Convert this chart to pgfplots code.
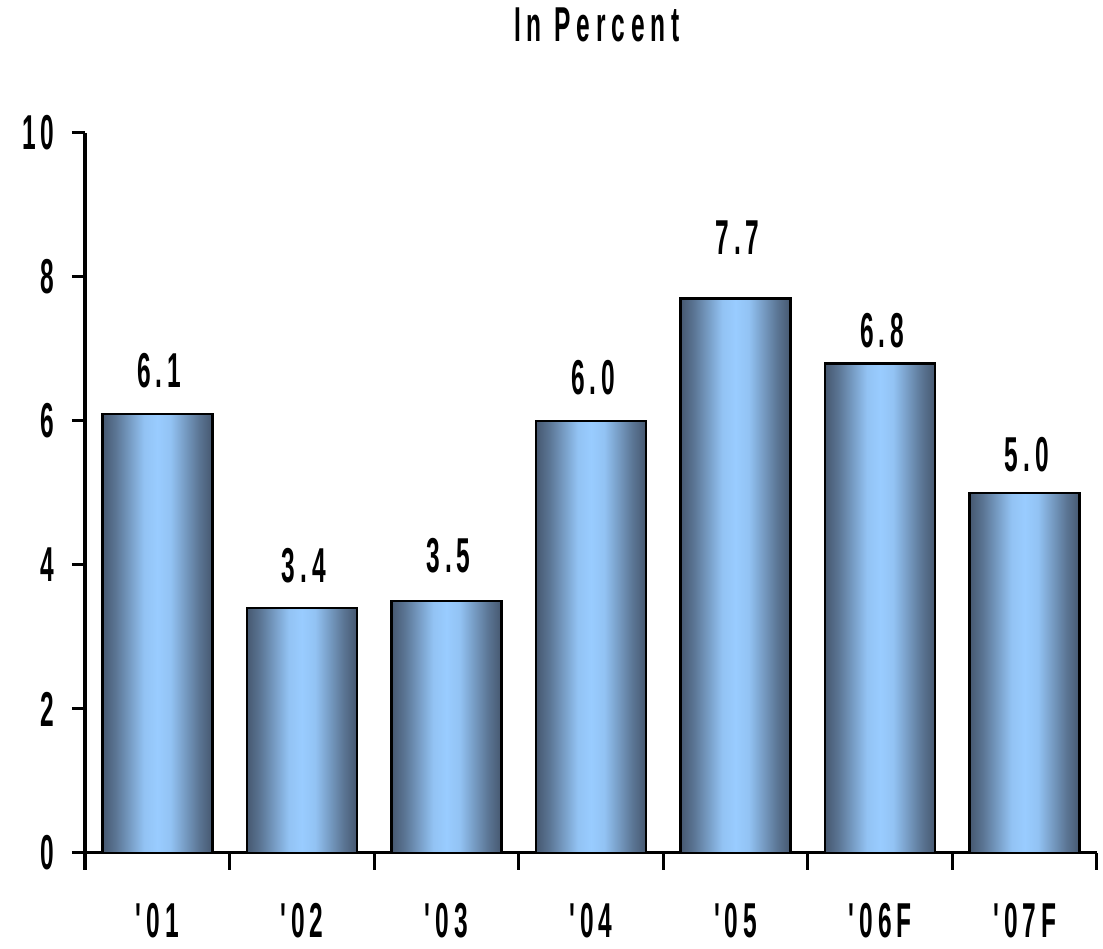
\documentclass[border=0pt]{standalone}
\usepackage{fontspec}
\usepackage{pgfplots}
\usepackage{pgfplotstable}
\pgfplotsset{compat=1.18}

% Condensed, letter-spaced bold sans used for every text on the chart
\newfontfamily\chartfont{Liberation Sans Bold}[FakeStretch=0.5, LetterSpace=10]
\newfontfamily\titlefont{Liberation Sans Bold}[FakeStretch=0.5, LetterSpace=12]

\definecolor{baredge}{RGB}{70,88,112}
\definecolor{barmid}{RGB}{153,204,255}

% cylinder-like shading across each bar: dark rims, light centre
% (the bar itself covers the 25bp..75bp part of the shading)
\pgfdeclarehorizontalshading{barcyl}{100bp}{
  color(0bp)=(baredge);
  color(25bp)=(baredge);
  color(31bp)=(baredge!75!barmid);
  color(44bp)=(barmid!92!baredge);
  color(50bp)=(barmid);
  color(56bp)=(barmid!92!baredge);
  color(69bp)=(baredge!75!barmid);
  color(75bp)=(baredge);
  color(100bp)=(baredge)}

% year index, growth in percent, extra lift of the value label (bp)
\pgfplotstableread{
x  y    lift
0  6.1  26
1  3.4  26
2  3.5  28
3  6.0  26
4  7.7  44
5  6.8  16
6  5.0  21
}\growth

\begin{document}
\begin{tikzpicture}
\useasboundingbox (0,0) rectangle (1103bp,949bp);
\begin{axis}[
  at={(85bp,96bp)}, anchor=south west,
  scale only axis, width=1012bp, height=720bp,
  xmin=-0.5, xmax=6.5, ymin=0, ymax=10,
  axis lines*=left,
  every outer x axis line/.append style={-},
  every outer y axis line/.append style={-},
  axis line style={line width=3bp, black, -},
  tick align=outside,
  ytick={0,2,...,10},
  major tick length=13bp,
  minor tick length=17bp,
  ytick style={line width=3bp, black},
  xtick={0,...,6},
  xticklabels={'01,'02,'03,'04,'05,'06F,'07F},
  major x tick style={draw=none},
  minor xtick={-0.5,0.5,...,6.5},
  minor x tick style={line width=3bp, black},
  /pgf/number format/assume math mode=true,
  tick label style={font=\chartfont\fontsize{49bp}{58bp}\selectfont},
  yticklabel style={xshift=-14bp},
  xticklabel style={anchor=base, yshift=-72bp, inner sep=1bp},
  title={In Percent},
  title style={font=\titlefont\fontsize{49bp}{58bp}\selectfont,
    at={(0.5,1)}, anchor=base, yshift=86bp, xshift=6bp},
  clip=false,
]
% one plot per bar so that each bar carries its own cylinder shading
\pgfplotsinvokeforeach{0,...,6}{
\addplot[ybar, bar width=110bp, bar shift=0pt, draw=black, line width=2.5bp,
  shading=barcyl,
  restrict x to domain=#1:#1,
  visualization depends on={\thisrow{lift} \as \lift},
  nodes near coords,
  every node near coord/.append style={font=\chartfont\fontsize{49bp}{58bp}\selectfont,
    /pgf/number format/fixed, /pgf/number format/fixed zerofill,
    /pgf/number format/precision=1, /pgf/number format/assume math mode=true,
    anchor=base, yshift=\lift bp, xshift=2bp, black},
] table[x=x, y=y] {\growth};
}
\end{axis}
\end{tikzpicture}
\end{document}
